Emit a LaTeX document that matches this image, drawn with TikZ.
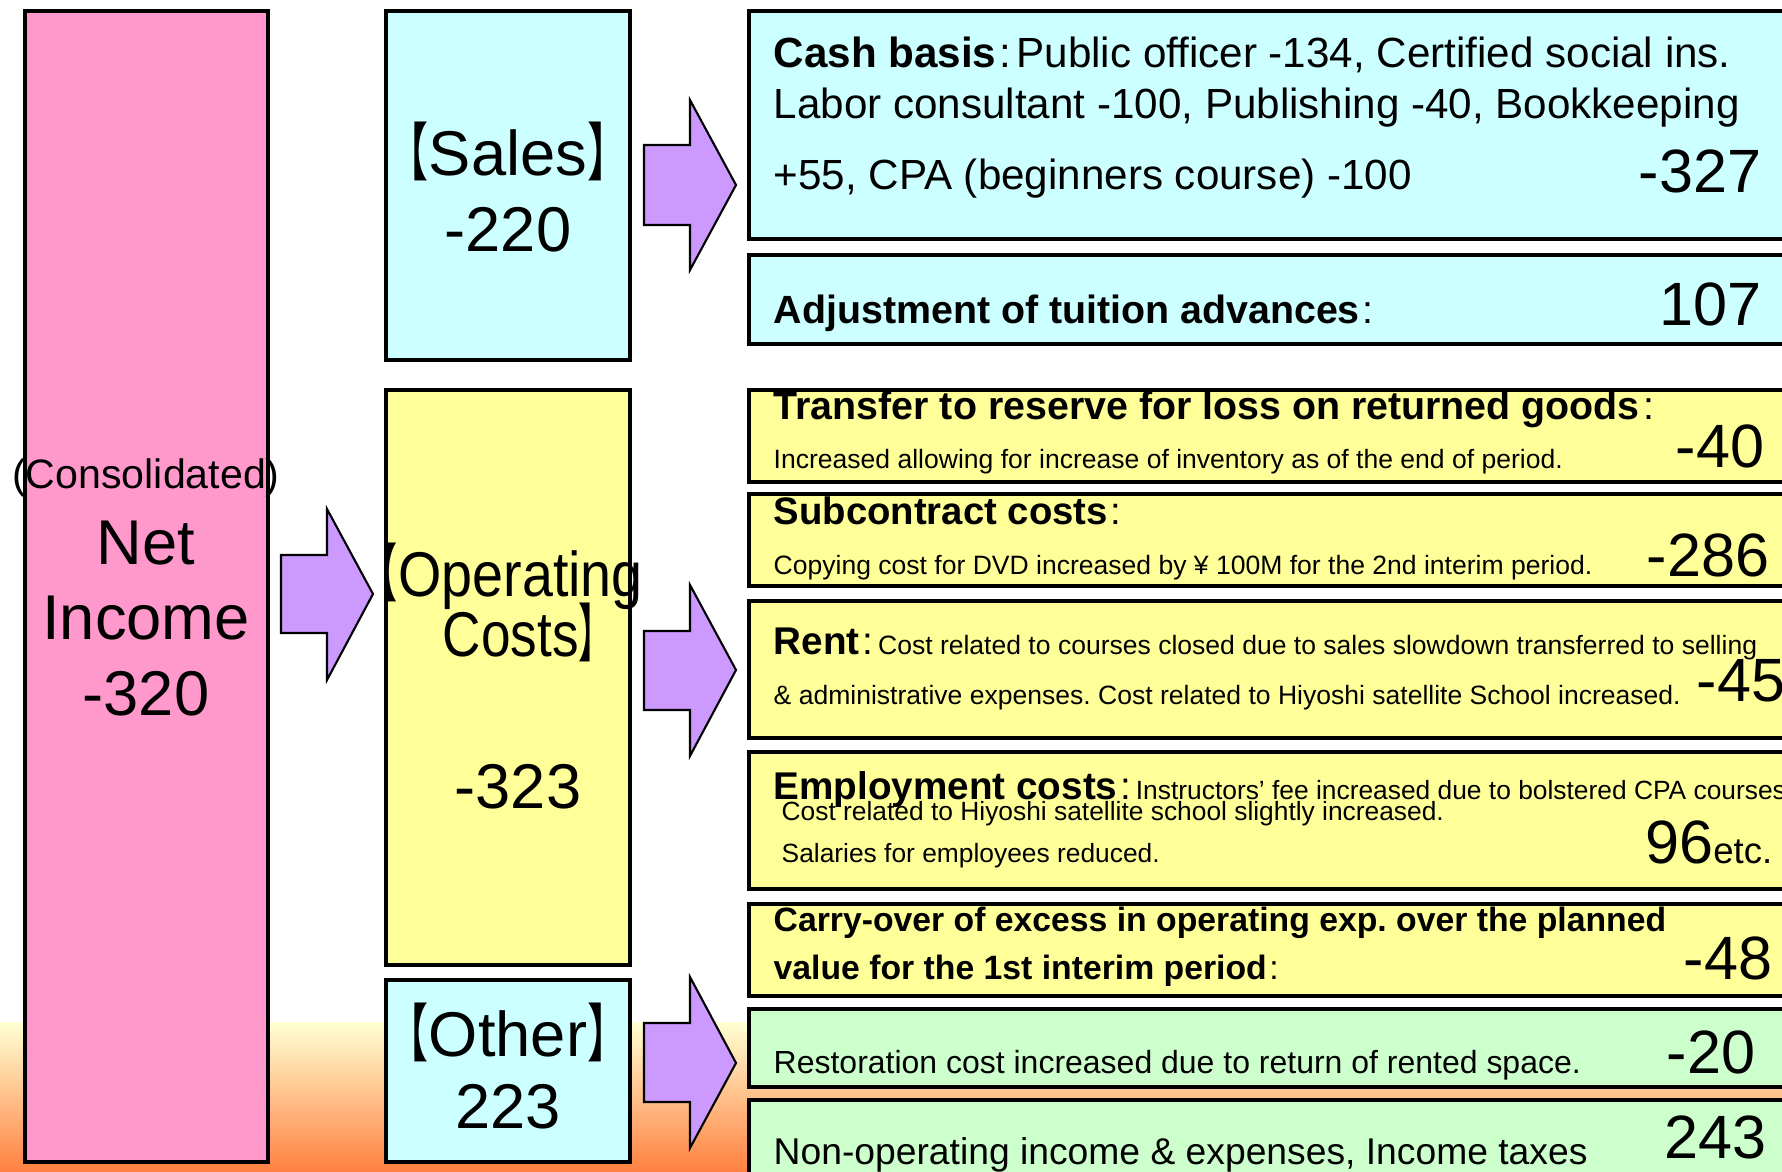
\documentclass[tikz,border=0pt]{standalone}
\usepackage{fontspec}
\setmainfont{Liberation Sans}
\newfontfamily\cjk[RawFeature=+palt]{Noto Sans CJK JP}
\frenchspacing
\definecolor{pinkf}{RGB}{255,153,204}
\definecolor{cyanf}{RGB}{204,255,255}
\definecolor{yelf}{RGB}{255,255,153}
\definecolor{grnf}{RGB}{204,255,204}
\definecolor{purf}{RGB}{204,153,255}
\definecolor{bgtop}{RGB}{255,255,210}
\definecolor{bgbot}{RGB}{255,128,64}
\newcommand{\fsz}[1]{\fontsize{#1}{#1}\selectfont}
\newcommand{\LB}{\scalebox{0.65}[1]{\cjk 【}\kern0.02em}
\newcommand{\RB}{\kern0.02em\scalebox{0.65}[1]{\cjk 】}}
\newcommand{\CL}{\kern0.08em{\mdseries :}\kern0.12em}
\tikzset{
  box/.style={draw=black, line width=1.4pt},
  arr/.style={draw=black, line width=0.6pt, fill=purf},
  tl/.style={inner sep=0pt, anchor=base west},
  tr/.style={inner sep=0pt, anchor=base east},
  tc/.style={inner sep=0pt, anchor=base},
  big/.style={font=\fsz{18}},
  num/.style={font=\fsz{17.4}},
}
\begin{document}
\begin{tikzpicture}[x=0.1mm,y=-0.1mm]
\useasboundingbox (0,0) rectangle (1782,1172);
\clip (0,0) rectangle (1782,1172);
% background gradient band
\fill[top color=bgtop, bottom color=bgbot] (0,1023) rectangle (1782,1172);
% left column boxes
\draw[box, fill=pinkf] (25,11) rectangle (268,1162);
\draw[box, fill=cyanf] (386,11) rectangle (630,360);
\draw[box, fill=yelf] (386,390) rectangle (630,965);
\draw[box, fill=cyanf] (386,980) rectangle (630,1162);
% right boxes
\draw[box, fill=cyanf] (749,11) rectangle (1800,239);
\draw[box, fill=cyanf] (749,255) rectangle (1800,344);
\draw[box, fill=yelf] (749,390) rectangle (1800,482);
\draw[box, fill=yelf] (749,494) rectangle (1800,586);
\draw[box, fill=yelf] (749,601) rectangle (1800,738);
\draw[box, fill=yelf] (749,752) rectangle (1800,889);
\draw[box, fill=yelf] (749,904) rectangle (1800,996);
\draw[box, fill=grnf] (749,1009) rectangle (1800,1087);
\draw[box, fill=grnf] (749,1100) rectangle (1800,1200);
% block arrows
\draw[arr] (644,145) -- (690,145) -- (690,100) -- (736,185) -- (690,270) -- (690,225) -- (644,225) -- cycle;
\draw[arr] (281,555) -- (327,555) -- (327,509) -- (373,594) -- (327,680) -- (327,633) -- (281,633) -- cycle;
\draw[arr] (644,631) -- (690,631) -- (690,585) -- (736,670) -- (690,756) -- (690,710) -- (644,710) -- cycle;
\draw[arr] (644,1023) -- (690,1023) -- (690,977) -- (736,1063) -- (690,1148) -- (690,1102) -- (644,1102) -- cycle;
% left texts
\node[tc, font=\fsz{11.7}] (cons) at (146,489) {(Consolidated)};
\node[tc, big] (net) at (146,565) {Net};
\node[tc, big] (inc) at (146,640) {Income};
\node[tc, big] (ni) at (146,716) {-320};
\node[tc, big] (sales) at (508,176) {\LB Sales\RB};
\node[tc, big] (salesv) at (508,252) {-220};
\node[tc, big] (opc1) at (511,597) {\scalebox{0.88}[1]{\LB Operating}};
\node[tc, big] (opc2) at (520,657) {\scalebox{0.84}[1]{Costs\RB}};
\node[tc, big] (opcv) at (518,809) {-323};
\node[tc, big] (oth) at (508,1057) {\LB Other\RB};
\node[tc, big] (othv) at (508,1129) {223};
% cash basis
\node[tl, font=\fsz{12}] (cb1) at (773,68) {\textbf{Cash basis}\CL Public officer -134, Certified social ins.};
\node[tl, font=\fsz{12}] (cb2) at (773,119) {Labor consultant -100, Publishing -40, Bookkeeping};
\node[tl, font=\fsz{12}] (cb3) at (773,190) {+55, CPA (beginners course) -100};
\node[tr, num] (cbv) at (1762,193) {-327};
% adjustment
\node[tl, font=\fsz{11.2}] (adj) at (773,324) {\textbf{Adjustment of tuition advances}\CL};
\node[tr, num] (adjv) at (1762,326) {107};
% transfer
\node[tl, font=\fsz{11.2}] (tr1) at (773,420) {\textbf{Transfer to reserve for loss on returned goods}\CL};
\node[tl, font=\fsz{7.55}] (tr2) at (773,469) {Increased allowing for increase of inventory as of the end of period.};
\node[tr, num] (trv) at (1765,468) {-40};
% subcontract
\node[tl, font=\fsz{10.9}] (sc1) at (773,525) {\textbf{Subcontract costs}\CL};
\node[tl, font=\fsz{7.55}] (sc2) at (773,575) {Copying cost for DVD increased by ¥ 100M for the 2nd interim period.};
\node[tr, num] (scv) at (1770,577) {-286};
% rent
\node[tl] (rn1) at (773,655) {{\fsz{11}\textbf{Rent}\CL}{\fsz{7.55}Cost related to courses closed due to sales slowdown transferred to selling}};
\node[tl, font=\fsz{7.55}] (rn2) at (773,705) {\& administrative expenses. Cost related to Hiyoshi satellite School increased.};
\node[tr, num] (rnv) at (1786,702) {-45};
% employment
\node[tl] (em1) at (773,800) {{\fsz{11}\textbf{Employment costs}\CL}{\fsz{7.5}Instructors’ fee increased due to bolstered CPA courses}};
\node[tl, font=\fsz{7.5}] (em2) at (781,821) {Cost related to Hiyoshi satellite school slightly increased.};
\node[tl, font=\fsz{7.5}] (em3) at (781,863) {Salaries for employees reduced.};
\node[tr] (emv) at (1773,864) {{\fsz{17.4}96}{\fsz{10.4}etc.}};
% carry-over
\node[tl, font=\fsz{9.6}] (co1) at (773,932) {\textbf{Carry-over of excess in operating exp. over the planned}};
\node[tl, font=\fsz{9.6}] (co2) at (773,980) {\textbf{value for the 1st interim period}\CL};
\node[tr, num] (cov) at (1773,980) {-48};
% restoration
\node[tl, font=\fsz{9.1}] (rs) at (773,1074) {Restoration cost increased due to return of rented space.};
\node[tr, num] (rsv) at (1756,1074) {-20};
% non-operating
\node[tl, font=\fsz{10.6}] (no) at (773,1165) {Non-operating income \& expenses, Income taxes};
\node[tr, num] (nov) at (1767,1159) {243};
\end{tikzpicture}
\end{document}
